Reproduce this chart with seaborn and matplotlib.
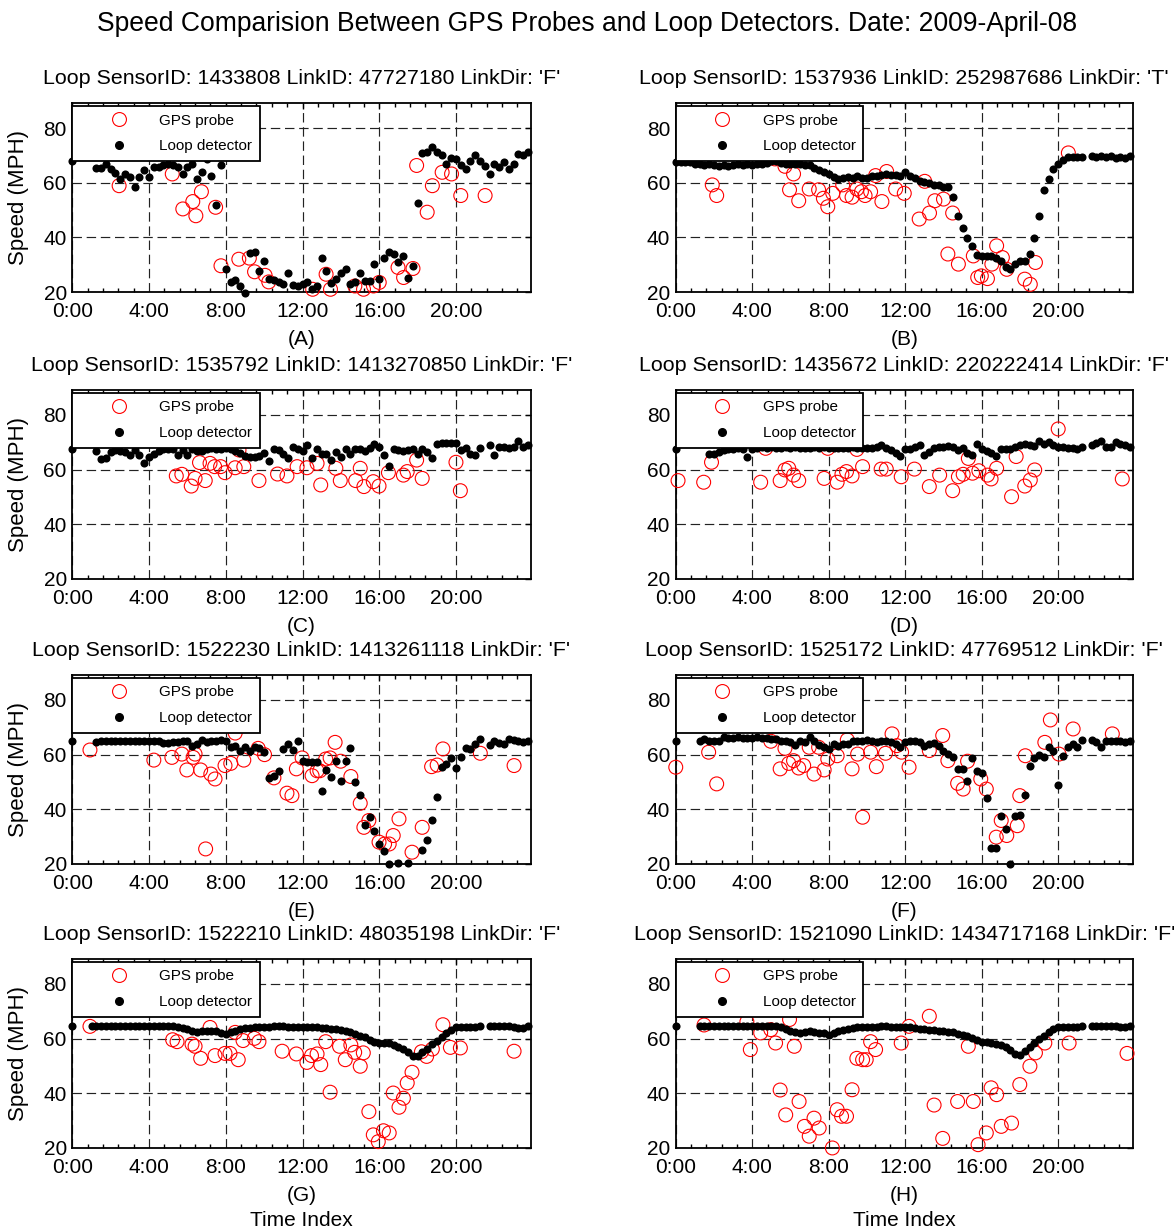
import numpy as np
import matplotlib
matplotlib.use("Agg")
import matplotlib.pyplot as plt
from matplotlib.lines import Line2D
from matplotlib.ticker import MultipleLocator
import seaborn as sns

nan = np.nan

# loop detector speeds, one value every 15 minutes (0:00 ... 23:45)
loop_time = np.arange(96) * 0.25

loop_a = [67.8, nan, nan, nan, nan, 65.4, 65.4, 67.0, 65.0, 63.6,
          61.2, 63.2, 62.0, 58.3, 62.0, 64.5, 62.0, 65.7, 65.7, 66.3,
          67.0, 66.3, 65.7, 63.2, 65.7, 67.0, 61.4, 63.8, 68.7, 62.6,
          52.0, 66.3, 28.4, 23.5, 24.4, 22.2, 19.8, 34.1, 34.5, 27.7,
          31.4, 24.7, 24.4, 23.5, 22.8, 27.1, 22.6, 22.2, 22.8, 23.5,
          21.1, 22.2, 32.4, 27.7, 23.2, 24.7, 27.1, 28.6, 22.8, 23.5,
          27.1, 24.0, 24.0, 30.2, 24.7, 32.4, 34.5, 33.9, 30.8, 33.0,
          25.3, 29.6, 52.6, 70.9, 71.4, 73.0, 71.2, 70.0, 66.9, 69.0,
          68.7, 66.5, 65.0, 68.1, 70.0, 68.1, 66.0, 63.2, 67.0, 65.7,
          67.5, 65.0, 67.0, 70.6, 70.0, 71.2]
loop_b = [67.5, 67.5, 67.5, 67.5, 67.0, 66.8, 66.5, 66.8, 66.5, 66.2,
          66.5, 66.2, 66.5, 66.8, 66.5, 66.8, 66.5, 66.8, 67.0, 67.2,
          68.0, 67.8, 67.2, 67.0, 67.0, 66.8, 67.0, 66.5, 66.5, 65.5,
          64.5, 63.8, 63.2, 62.0, 61.4, 61.8, 62.0, 61.8, 62.4, 61.6,
          61.8, 62.4, 62.6, 62.8, 63.2, 62.9, 62.9, 62.6, 63.8, 62.6,
          61.8, 60.8, 60.2, 59.8, 59.2, 59.0, 58.6, 58.3, 54.7, 47.9,
          43.4, 39.7, 36.7, 33.5, 33.2, 33.2, 33.2, 32.6, 31.4, 29.0,
          28.6, 30.2, 31.4, 31.4, 33.9, 39.6, 47.7, 57.5, 61.3, 65.0,
          66.9, 68.4, 69.4, 69.4, 69.4, 69.4, nan, 69.7, 69.4, 69.6,
          69.4, 69.6, 69.2, 69.4, 69.2, 69.7]
loop_c = [67.6, nan, nan, nan, nan, 66.8, 63.8, 64.1, 66.6, 67.2,
          66.8, 66.6, 65.4, 67.2, 65.4, 62.3, 64.5, 65.7, 66.8, 67.5,
          67.6, 67.5, 65.4, 67.2, 65.4, 67.5, 66.8, 67.0, 67.5, 67.8,
          67.5, 67.6, 67.8, 67.5, 67.0, 66.0, 65.0, 64.5, 64.5, 65.0,
          66.2, 63.3, 67.4, 67.2, 65.7, 64.1, 68.2, 67.4, 66.8, 69.0,
          64.1, 67.4, 65.6, 65.6, 63.5, 66.6, 64.8, 67.4, 65.7, 67.4,
          67.4, 66.9, 67.8, 69.4, 68.4, 65.4, 61.3, 67.4, 67.2, 66.9,
          67.2, 67.4, 65.7, 67.4, 66.6, 64.1, 69.3, 69.9, 69.9, 69.9,
          69.9, 67.2, 67.8, 65.7, 65.4, 67.8, nan, 69.0, 65.4, 68.4,
          68.4, 67.8, 68.4, 70.6, 68.4, 69.0]
loop_d = [67.6, nan, nan, nan, nan, nan, nan, 65.7, 65.7, 66.6,
          67.2, 67.4, 67.6, 67.8, 67.6, 64.8, 67.4, 68.0, 68.3, 67.9,
          68.2, 68.0, 67.8, 68.2, 68.0, 68.3, 67.9, 68.1, 68.0, 68.2,
          67.9, 68.2, 68.0, 67.8, 68.1, 68.0, 67.9, 68.2, 68.0, 67.8,
          67.8, 67.8, 68.4, 69.0, 67.8, 67.2, 66.0, 65.0, 67.4, 67.4,
          68.4, 69.0, 65.4, 66.6, 67.8, 68.2, 68.2, 68.7, 68.2, 67.2,
          67.8, 66.0, 65.4, 69.4, 67.4, 66.9, 66.0, 65.0, 67.4, 67.4,
          67.4, 68.4, 69.0, 69.4, 69.0, 68.7, 70.6, 69.4, 70.2, 69.0,
          68.2, 68.2, 67.8, 67.8, 67.4, 68.4, nan, 69.0, 69.6, 70.6,
          68.4, 68.2, 70.2, 69.4, 69.0, 68.4]
loop_e = [64.9, nan, nan, nan, nan, 64.5, 65.1, 65.1, 65.1, 65.1,
          65.1, 65.1, 65.1, 65.1, 65.1, 65.1, 65.1, 65.1, 65.1, 64.1,
          64.3, 64.5, 64.5, 64.9, 65.1, 63.3, 63.9, 65.4, 64.7, 65.1,
          65.1, 65.4, 64.9, 62.7, 63.3, 61.5, 62.7, 61.2, 62.7, 62.4,
          60.9, 51.5, 52.3, 54.1, 62.1, 63.9, 61.7, 64.9, 57.8, 57.2,
          57.4, 57.2, 46.6, 54.4, 52.0, 57.6, 50.5, 57.8, 62.4, 49.9,
          45.4, 34.4, 37.3, 32.0, 27.3, 24.6, 20.0, nan, 20.2, nan,
          20.2, nan, nan, 25.1, 28.8, 36.1, 44.6, 55.6, 56.6, 58.8,
          55.1, 59.3, 62.4, 62.1, 63.9, 65.7, nan, 63.5, 65.1, 64.1,
          63.9, 65.7, 65.4, 64.9, 64.5, 64.9]
loop_f = [64.9, nan, nan, nan, nan, 64.9, 65.7, 65.1, 64.9, 64.9,
          66.3, 66.1, 66.1, 66.3, 66.1, 66.1, 66.1, 66.3, 66.1, 66.1,
          65.9, 65.7, 65.1, 64.9, 64.5, 63.7, 64.9, 64.5, 66.3, 64.9,
          63.7, 62.7, 62.1, 63.9, 63.3, 63.9, 63.9, 64.9, 65.1, 64.9,
          65.4, 65.1, 64.5, 64.9, 64.9, 64.5, 63.9, 62.9, 64.5, 64.9,
          65.1, 64.5, 63.3, 63.9, 64.1, 63.3, 61.5, 60.2, 59.3, 54.9,
          54.6, 50.5, 58.8, 54.1, 53.2, 44.1, 25.7, 25.7, 37.7, 32.8,
          20.0, 37.7, 38.0, 45.2, 55.7, 58.8, 60.0, 59.3, 62.7, 61.5,
          49.0, 59.6, 62.7, 63.9, 62.7, 65.4, nan, 65.4, 64.5, 62.7,
          64.9, 64.9, 65.1, 64.9, 64.5, 64.9]
loop_g = [64.5, nan, nan, nan, 64.8, 64.8, 64.8, 64.8, 64.8, 64.8,
          64.8, 64.8, 64.8, 64.8, 64.8, 64.8, 64.8, 64.8, 64.8, 64.8,
          64.8, 64.5, 64.2, 63.8, 63.5, 62.7, 62.3, 62.7, 62.9, 62.9,
          62.7, 62.2, 61.7, 62.3, 62.9, 63.5, 63.9, 64.0, 64.2, 64.2,
          64.2, 64.2, 64.5, 64.8, 64.5, 64.2, 64.2, 64.2, 64.2, 64.2,
          64.2, 64.2, 63.9, 63.8, 63.5, 63.4, 63.2, 62.8, 62.3, 61.7,
          61.1, 60.5, 59.6, 58.9, 58.5, 58.5, 58.3, 57.6, 57.1, 56.2,
          55.0, 53.8, 53.8, 55.0, 56.2, 58.0, 59.2, 60.5, 62.1, 63.3,
          64.2, 64.2, 64.2, 64.2, 64.2, 64.5, nan, 64.5, 64.5, 64.5,
          64.5, 64.5, 64.2, 63.9, 64.0, 64.5]
loop_h = [64.8, nan, nan, nan, nan, 64.8, 64.8, 64.8, 64.8, 64.8,
          64.8, 64.8, 64.8, 64.8, 64.8, 64.8, 64.8, 64.8, 64.8, 64.8,
          64.8, 64.8, 64.2, 63.5, 62.7, 62.5, 62.1, 62.5, 62.7, 62.5,
          62.1, 62.0, 61.5, 62.0, 62.7, 63.2, 63.5, 63.8, 64.1, 64.1,
          64.1, 64.1, 64.1, 64.5, 64.8, 64.1, 64.1, 64.1, 64.1, 64.1,
          63.8, 63.5, 63.5, 63.3, 63.0, 62.9, 62.7, 62.5, 62.3, 61.8,
          61.3, 60.8, 60.3, 59.5, 58.9, 58.7, 58.5, 58.2, 57.6, 56.8,
          55.9, 54.3, 54.0, 55.3, 56.8, 58.5, 59.8, 61.0, 62.3, 63.5,
          64.1, 64.1, 64.1, 64.1, 64.1, 64.8, nan, 64.8, 64.8, 64.8,
          64.8, 64.5, 64.5, 64.2, 64.2, 64.5]

# GPS probe observations (hour of day, speed)
gps_a_time = [2.44, 5.21, 5.76, 6.28, 6.44, 6.73, 7.47, 7.75, 8.68, 9.23,
              9.5, 10.05, 10.24, 12.53, 13.23, 13.46, 14.73, 15.18, 15.7, 16.0,
              16.98, 17.27, 17.76, 17.95, 18.5, 18.77, 19.28, 19.77, 20.25, 21.52]
gps_a_speed = [58.9, 63.2, 50.4, 53.1, 47.9, 56.7, 51.0, 29.6, 32.0, 32.4,
               27.4, 26.1, 23.7, 21.0, 26.5, 21.0, 22.2, 21.0, 22.2, 23.5,
               29.0, 25.3, 28.6, 66.3, 49.2, 58.9, 63.8, 63.2, 55.3, 55.3]
gps_b_time = [1.91, 2.14, 5.19, 5.71, 5.95, 6.16, 6.43, 6.98, 7.47, 7.72,
              7.95, 8.21, 8.73, 8.93, 9.22, 9.47, 9.71, 9.9, 10.19, 10.45,
              10.78, 11.03, 11.5, 11.95, 12.73, 13.02, 13.27, 13.55, 14.0, 14.23,
              14.48, 14.78, 15.56, 15.79, 15.98, 16.3, 16.53, 16.78, 17.08, 17.31,
              18.25, 18.54, 18.81, 20.53]
gps_b_speed = [59.2, 55.3, 68.7, 66.0, 57.4, 63.2, 53.4, 57.7, 57.4, 54.3,
               51.2, 56.1, 59.2, 55.3, 54.7, 57.7, 56.7, 55.3, 56.7, 62.6,
               53.1, 64.1, 57.7, 56.1, 46.7, 60.5, 48.9, 53.4, 54.0, 33.9,
               48.9, 30.2, 33.2, 25.3, 25.9, 24.9, 30.2, 36.9, 32.6, 28.3,
               24.7, 22.8, 30.8, 70.9]
gps_c_time = [5.42, 5.71, 6.2, 6.4, 6.63, 6.93, 7.18, 7.42, 7.73, 7.96,
              8.49, 8.69, 8.94, 9.73, 10.7, 11.19, 11.72, 12.23, 12.76, 12.95,
              13.74, 13.97, 14.77, 15.01, 15.2, 15.69, 15.99, 16.48, 17.26, 17.46,
              17.95, 18.24, 20.0, 20.23]
gps_c_speed = [57.7, 58.3, 54.0, 56.8, 62.6, 56.0, 62.3, 61.1, 61.1, 58.9,
               60.7, 67.2, 61.1, 56.0, 58.4, 57.7, 61.1, 60.7, 62.3, 54.4,
               60.5, 56.0, 56.0, 60.5, 53.8, 55.6, 54.0, 58.9, 58.0, 59.3,
               63.5, 56.8, 62.7, 52.3]
gps_d_time = [0.12, 1.46, 1.87, 4.44, 4.7, 5.46, 5.71, 5.91, 6.16, 6.43,
              7.76, 7.95, 8.44, 8.69, 8.93, 9.22, 9.47, 9.77, 10.74, 11.01,
              11.79, 12.48, 13.26, 13.8, 14.48, 14.78, 15.03, 15.3, 15.52, 15.85,
              16.3, 16.49, 16.78, 17.56, 17.8, 18.25, 18.54, 18.77, 20.0, 23.35]
gps_d_speed = [56.0, 55.4, 62.7, 55.4, 67.8, 56.0, 59.9, 60.5, 58.0, 56.0,
               56.8, 67.8, 55.4, 58.3, 59.3, 57.7, 67.4, 61.1, 60.2, 60.2,
               57.4, 60.2, 53.8, 58.0, 52.3, 57.4, 58.3, 64.1, 58.7, 59.6,
               58.0, 56.6, 60.5, 50.1, 64.8, 54.0, 56.2, 59.9, 74.9, 56.6]
gps_e_time = [0.92, 4.25, 5.19, 5.71, 5.97, 6.3, 6.4, 6.69, 6.95, 7.22,
              7.44, 7.96, 8.26, 8.49, 8.94, 9.69, 10.02, 10.51, 11.19, 11.45,
              11.68, 11.98, 12.5, 12.76, 12.9, 13.21, 13.44, 13.7, 13.99, 14.52,
              15.01, 15.2, 15.46, 15.99, 16.28, 16.52, 16.73, 17.03, 17.71, 18.24,
              18.73, 19.02, 19.32, 21.27, 23.03]
gps_e_speed = [61.7, 58.0, 59.0, 60.2, 54.4, 59.0, 60.2, 54.4, 25.5, 52.9,
               51.1, 56.0, 56.8, 67.9, 58.0, 62.3, 60.0, 51.5, 45.9, 45.0,
               54.8, 58.8, 52.3, 54.1, 54.1, 58.4, 58.8, 64.5, 57.6, 52.0,
               42.2, 33.4, 35.9, 28.0, 27.3, 27.3, 30.4, 36.5, 24.3, 33.4,
               55.6, 56.2, 62.1, 60.5, 56.0]
gps_f_time = [0.0, 1.72, 2.14, 4.97, 5.46, 5.71, 5.91, 6.16, 6.43, 6.69,
              6.98, 7.23, 7.47, 7.76, 7.95, 8.44, 8.97, 9.22, 9.51, 9.77,
              10.19, 10.49, 10.97, 11.31, 11.56, 11.81, 12.2, 13.26, 13.96, 14.23,
              14.74, 15.03, 15.26, 15.95, 16.24, 16.76, 17.02, 17.31, 17.86, 17.99,
              18.28, 19.3, 19.59, 20.04, 20.78, 22.83]
gps_f_speed = [55.4, 60.9, 49.3, 64.9, 54.8, 62.3, 56.8, 57.8, 55.1, 56.0,
               62.7, 52.9, 62.7, 54.4, 58.4, 59.6, 65.4, 54.8, 60.2, 37.1,
               60.9, 55.6, 60.5, 67.6, 63.3, 60.9, 55.4, 61.5, 67.0, 57.8,
               49.5, 47.4, 57.6, 51.1, 47.4, 29.8, 35.9, 30.4, 34.0, 45.0,
               59.6, 64.5, 72.7, 60.2, 69.4, 67.6]
gps_g_time = [0.92, 5.23, 5.46, 6.24, 6.4, 6.69, 7.18, 7.44, 7.96, 8.22,
              8.49, 8.65, 8.9, 9.49, 9.73, 10.94, 11.68, 12.23, 12.47, 12.76,
              12.95, 13.21, 13.44, 13.93, 14.23, 14.52, 14.72, 15.01, 15.17, 15.46,
              15.69, 15.95, 16.22, 16.52, 16.73, 17.03, 17.26, 17.46, 17.71, 18.2,
              18.47, 18.77, 19.32, 19.71, 20.23, 23.03]
gps_g_speed = [64.5, 59.6, 58.9, 58.0, 57.2, 52.8, 64.1, 53.8, 54.6, 54.6,
               62.3, 52.3, 59.3, 60.1, 58.9, 55.4, 54.4, 51.3, 53.8, 54.4,
               50.5, 58.9, 40.4, 57.2, 52.3, 57.7, 55.0, 49.9, 54.8, 33.3,
               24.8, 22.3, 26.3, 25.5, 40.1, 34.9, 38.2, 43.8, 47.7, 55.2,
               53.5, 56.2, 65.1, 56.8, 56.6, 55.4]
gps_h_time = [1.48, 3.72, 3.9, 4.44, 4.97, 5.22, 5.46, 5.75, 5.95, 6.2,
              6.45, 6.73, 6.98, 7.23, 7.5, 8.19, 8.44, 8.67, 8.93, 9.22,
              9.47, 9.77, 9.96, 10.19, 10.45, 11.79, 12.2, 13.26, 13.51, 13.96,
              14.74, 15.3, 15.56, 15.81, 16.24, 16.49, 16.78, 17.02, 17.56, 17.99,
              18.52, 18.81, 19.3, 20.57, 23.6]
gps_h_speed = [65.0, 66.2, 56.0, 62.1, 63.3, 58.4, 41.2, 32.1, 67.0, 57.2,
               37.0, 27.9, 24.3, 30.9, 27.3, 20.0, 34.0, 31.6, 31.6, 41.3,
               52.8, 52.3, 52.3, 58.9, 56.0, 58.4, 64.5, 68.2, 35.7, 23.5,
               37.0, 57.2, 37.0, 21.2, 25.5, 42.0, 39.5, 27.9, 29.1, 43.2,
               49.9, 54.8, 58.4, 58.4, 54.6]

titles = ["Loop SensorID: 1433808 LinkID: 47727180 LinkDir: 'F'",
          "Loop SensorID: 1537936 LinkID: 252987686 LinkDir: 'T'",
          "Loop SensorID: 1535792 LinkID: 1413270850 LinkDir: 'F'",
          "Loop SensorID: 1435672 LinkID: 220222414 LinkDir: 'F'",
          "Loop SensorID: 1522230 LinkID: 1413261118 LinkDir: 'F'",
          "Loop SensorID: 1525172 LinkID: 47769512 LinkDir: 'F'",
          "Loop SensorID: 1522210 LinkID: 48035198 LinkDir: 'F'",
          "Loop SensorID: 1521090 LinkID: 1434717168 LinkDir: 'F'"]
panel_tags = ["(A)", "(B)", "(C)", "(D)", "(E)", "(F)", "(G)", "(H)"]
tick_hours = [0, 4, 8, 12, 16, 20]
tick_labels = ["0:00", "4:00", "8:00", "12:00", "16:00", "20:00"]

loops = [loop_a, loop_b, loop_c, loop_d, loop_e, loop_f, loop_g, loop_h]
gps = [(gps_a_time, gps_a_speed), (gps_b_time, gps_b_speed),
       (gps_c_time, gps_c_speed), (gps_d_time, gps_d_speed),
       (gps_e_time, gps_e_speed), (gps_f_time, gps_f_speed),
       (gps_g_time, gps_g_speed), (gps_h_time, gps_h_speed)]

sns.set_style("white")
plt.rcParams['font.family'] = ['Liberation Sans', 'DejaVu Sans']
plt.rcParams['axes.linewidth'] = 1.3
plt.rcParams['text.color'] = 'black'
plt.rcParams['axes.labelcolor'] = 'black'
plt.rcParams['xtick.color'] = 'black'
plt.rcParams['ytick.color'] = 'black'

fig = plt.figure(figsize=(11.74, 12.3), dpi=100)

col_left = [0.0616, 0.5756]
col_width = [0.3905, 0.3893]
row_bottom = [0.7626, 0.5293, 0.2976, 0.0667]
row_height = 0.1533

for k in range(8):
    r, c = k // 2, k % 2
    ax = fig.add_axes([col_left[c], row_bottom[r], col_width[c], row_height])

    sns.scatterplot(x=gps[k][0], y=gps[k][1], ax=ax, marker='o', s=100,
                    facecolors='none', edgecolor='red', linewidth=0.8,
                    legend=False, clip_on=False, zorder=3)
    sns.scatterplot(x=loop_time, y=loops[k], ax=ax, marker='o', s=34,
                    color='black', linewidth=0, legend=False,
                    clip_on=False, zorder=3)

    ax.set_xlim(0, 23.9)
    ax.set_ylim(20, 89)
    ax.set_xticks(tick_hours)
    ax.set_xticklabels(tick_labels)
    ax.xaxis.set_minor_locator(MultipleLocator(0.8))
    ax.set_yticks([20, 40, 60, 80])
    ax.tick_params(axis='both', which='major', direction='in', top=True,
                   right=True, length=4, width=1, labelsize=15, colors='black')
    ax.tick_params(axis='x', which='major', pad=7)
    ax.tick_params(axis='y', which='major', pad=4)
    ax.tick_params(axis='x', which='minor', direction='in', top=True,
                   bottom=True, length=3, width=1)
    ax.grid(True, which='major', color='#222222', linestyle=(0, (8, 4)),
            linewidth=0.85)
    for sp in ax.spines.values():
        sp.set_color('black')
        sp.set_linewidth(1.3)
        sp.set_visible(True)

    ax.set_title(titles[k], fontsize=15.4, pad=14, color='black')
    if r == 3:
        ax.set_xlabel(panel_tags[k] + "\nTime Index", fontsize=15,
                      labelpad=7, linespacing=1.35)
    else:
        ax.set_xlabel(panel_tags[k], fontsize=15, labelpad=7)
    if c == 0:
        ax.set_ylabel("Speed (MPH)", fontsize=16, labelpad=10)
    else:
        ax.set_ylabel("")

    handles = [Line2D([], [], marker='o', linestyle='none', markersize=10,
                      markerfacecolor='none', markeredgecolor='red',
                      markeredgewidth=0.8),
               Line2D([], [], marker='o', linestyle='none', markersize=5.5,
                      color='black')]
    leg = ax.legend(handles, ["GPS probe", "Loop detector"], loc='upper left',
                    bbox_to_anchor=(0.0, 0.987), borderaxespad=0, fontsize=11,
                    frameon=True, fancybox=False, framealpha=1,
                    edgecolor='black', borderpad=0.5, labelspacing=0.75,
                    handlelength=5.1, handletextpad=0.1)
    leg.get_frame().set_linewidth(1.3)
    leg.set_zorder(5)

fig.suptitle("Speed Comparision Between GPS Probes and Loop Detectors. "
             "Date: 2009-April-08", fontsize=19.1, y=0.9805, va='center')

fig.savefig("out.png", dpi=100)
